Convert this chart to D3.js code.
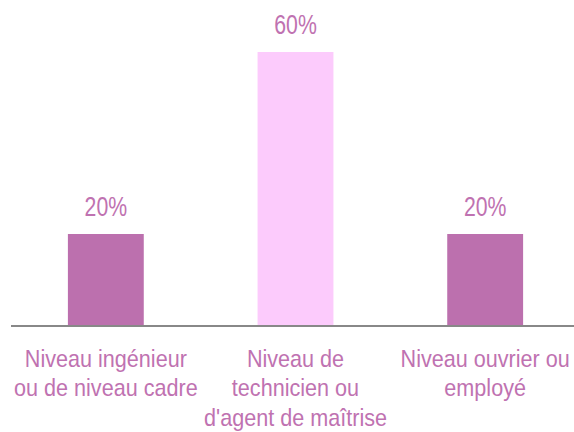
<!doctype html>
<meta charset="utf-8">
<title>niveaux</title>
<script src="https://cdn.jsdelivr.net/npm/d3@7"></script>
<style>
  body { margin: 0; background: #fff; }
  text { font-family: "Liberation Sans", Arial, sans-serif; fill: #bf72b1; }
</style>
<body>
<svg id="chart" width="574" height="432"></svg>
<script>

// data
var categories = [
  ["Niveau ingénieur", "ou de niveau cadre"],
  ["Niveau de", "technicien ou", "d'agent de maîtrise"],
  ["Niveau ouvrier ou", "employé"]
];
var values = [20, 60, 20];
var barColors = ["#bc70ae", "#fccbfc", "#bc70ae"];

var svg = d3.select("#chart");

var x = d3.scaleBand()
  .domain(d3.range(values.length))
  .range([11, 580])
  .paddingInner(0.6)
  .paddingOuter(0.3);

var y = d3.scaleLinear()
  .domain([0, 60])
  .range([325, 52]);

// bars
svg.selectAll("rect.bar")
  .data(values)
  .enter().append("rect")
    .attr("class", "bar")
    .attr("x", function(d, i) { return x(i); })
    .attr("y", function(d) { return y(d); })
    .attr("width", x.bandwidth())
    .attr("height", function(d) { return y(0) - y(d); })
    .attr("fill", function(d, i) { return barColors[i]; });

// value labels (original font is narrower, so squeeze it)
svg.selectAll("text.val")
  .data(values)
  .enter().append("text")
    .attr("class", "val")
    .attr("transform", function(d, i) {
      return "translate(" + (x(i) + x.bandwidth() / 2) + "," + (y(d) - 18.5) + ") scale(0.76,1)";
    })
    .attr("text-anchor", "middle")
    .style("font-size", "28px")
    .text(function(d) { return d + "%"; });

// baseline
svg.append("line")
  .attr("x1", 11).attr("x2", 574)
  .attr("y1", y(0) + 1).attr("y2", y(0) + 1)
  .attr("stroke", "#888")
  .attr("stroke-width", 2);

// category labels
var lab = svg.selectAll("text.cat")
  .data(categories)
  .enter().append("text")
    .attr("class", "cat")
    .attr("text-anchor", "middle")
    .attr("transform", function(d, i) {
      return "translate(" + (x(i) + x.bandwidth() / 2) + ",0) scale(0.9,1)";
    })
    .style("font-size", "24px");

lab.each(function(lines) {
  var t = d3.select(this);
  lines.forEach(function(l, k) {
    t.append("tspan")
      .attr("x", 0)
      .attr("y", 367 + k * 29.5)
      .text(l);
  });
});

</script>
</body>
